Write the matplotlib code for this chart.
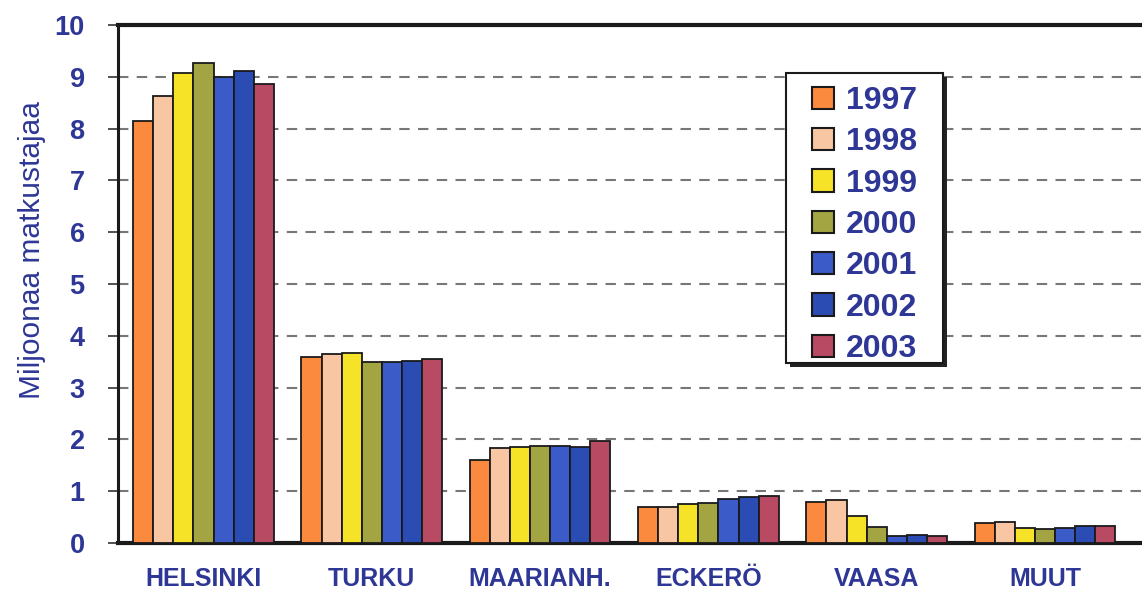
import matplotlib
matplotlib.use("Agg")
import matplotlib.pyplot as plt
from matplotlib.patches import Rectangle
import numpy as np

airports = ["HELSINKI", "TURKU", "MAARIANH.", "ECKERÖ", "VAASA", "MUUT"]
years = ["1997", "1998", "1999", "2000", "2001", "2002", "2003"]
v1997 = [8.15, 3.59, 1.60, 0.69, 0.80, 0.38]
v1998 = [8.62, 3.64, 1.83, 0.69, 0.83, 0.41]
v1999 = [9.08, 3.67, 1.85, 0.76, 0.52, 0.29]
v2000 = [9.27, 3.50, 1.88, 0.78, 0.31, 0.27]
v2001 = [9.00, 3.50, 1.88, 0.85, 0.13, 0.29]
v2002 = [9.12, 3.51, 1.86, 0.88, 0.15, 0.33]
v2003 = [8.86, 3.55, 1.96, 0.90, 0.13, 0.32]
series = [v1997, v1998, v1999, v2000, v2001, v2002, v2003]
colors = ["#FB8A3E", "#F8C6A2", "#F6E226", "#A2A541", "#3A5BC8", "#2B4CB2", "#B84A63"]
yticks = list(range(0, 11))

txt = "#2E3796"
W, H = 1142, 598
fig = plt.figure(figsize=(W / 100, H / 100), dpi=100)
fig.patch.set_facecolor("white")
left, right, top, bottom = 118, 1160, 25, 543
ax = fig.add_axes([left / W, (H - bottom) / H, (right - left) / W, (bottom - top) / H])

x = np.arange(len(airports))
bw = 0.1195
for i, (vals, c, yr) in enumerate(zip(series, colors, years)):
    ax.bar(x + (i - 3) * bw, vals, bw, color=c, edgecolor="#1a1a1a", linewidth=1.3,
           label=yr, zorder=3)

ax.set_ylim(0, 10)
spacing = 168.3
x0 = -0.508
ax.set_xlim(x0, x0 + (right - left) / spacing)
ax.set_yticks(yticks)
ax.set_yticklabels([str(t) for t in yticks], fontsize=19.5, fontweight="bold",
                   color=txt, family="Liberation Sans")
ax.tick_params(axis="y", direction="out", length=7, width=1.2, pad=17, color="#333333")
ax.set_xticks(x)
ax.set_xticklabels(airports, fontsize=18, fontweight="bold", color=txt,
                   family="Liberation Sans")
ax.tick_params(axis="x", length=0, pad=17)

for yv in yticks[1:-1]:
    ax.axhline(yv, color="#777777", lw=1.5, ls=(0, (5, 4)), zorder=1)

ax.spines["left"].set_linewidth(2.2)
ax.spines["top"].set_linewidth(3)
ax.spines["bottom"].set_linewidth(3)
ax.spines["right"].set_visible(False)
for s in ax.spines.values():
    s.set_color("#1a1a1a")

fig.text(32 / W, 1 - 250 / H, "Miljoonaa matkustajaa", rotation=90, ha="center",
         va="center", fontsize=21.5, color=txt, family="Liberation Sans")

# legend frame with shadow
lx0, lx1, ly0, ly1 = 786, 943, 73, 363
shadow = Rectangle(((lx0 + 4) / W, 1 - (ly1 + 4) / H), (lx1 - lx0) / W, (ly1 - ly0) / H,
                   transform=fig.transFigure, facecolor="#222222", edgecolor="none",
                   zorder=9, clip_on=False)
frame = Rectangle((lx0 / W, 1 - ly1 / H), (lx1 - lx0) / W, (ly1 - ly0) / H,
                  transform=fig.transFigure, facecolor="white", edgecolor="#1a1a1a",
                  linewidth=1.5, zorder=10, clip_on=False)
ax.add_artist(shadow)
ax.add_artist(frame)

leg = ax.legend(loc="upper left", bbox_to_anchor=(812 / W, 1 - 86 / H),
                bbox_transform=fig.transFigure, frameon=False,
                prop={"family": "Liberation Sans", "weight": "bold", "size": 23},
                handlelength=0.7, handleheight=0.7, handletextpad=0.35,
                labelspacing=0.355, borderpad=0, borderaxespad=0)
leg.set_zorder(20)
for t in leg.get_texts():
    t.set_color(txt)
for h in leg.legend_handles:
    h.set_linewidth(1.5)

fig.savefig("out.png", dpi=100, facecolor="white")
